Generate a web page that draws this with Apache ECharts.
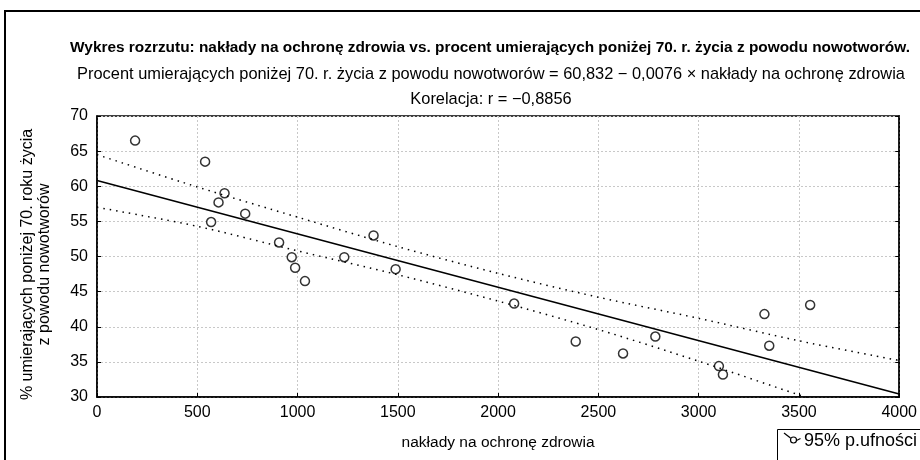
<!DOCTYPE html>
<html>
<head>
  <meta charset="utf-8">
  <title>Wykres rozrzutu</title>
  <script src="https://cdn.jsdelivr.net/npm/echarts@6/dist/echarts.min.js"></script>
  <style>
    html, body { margin: 0; padding: 0; background: #fff; }
    #chart { width: 920px; height: 460px; }
  </style>
</head>
<body>
<div id="chart"></div>
<script>
  // punkty: [nakłady na ochronę zdrowia, % umierających poniżej 70. r. życia]
  var points = [
    [190, 66.5], [539, 63.5], [569, 54.9], [606, 57.7], [636, 59.0],
    [739, 56.1], [908, 52.0], [971, 49.9], [988, 48.4], [1037, 46.5],
    [1233, 49.9], [1379, 53.0], [1489, 48.2], [2080, 43.3], [2387, 37.9],
    [2623, 36.2], [2784, 38.6], [3101, 34.4], [3121, 33.2], [3328, 41.8],
    [3352, 37.3], [3556, 43.1]
  ];
  // linia regresji: 60,832 - 0,0076 x
  var fitLine = [[0, 60.832], [4000, 30.432]];
  // przedział ufności 95%
  var upperBand = [[0, 64.5], [500, 59.9], [1000, 55.6], [1500, 51.4], [2000, 47.6],
                   [2500, 44.2], [3000, 41.2], [3500, 38.0], [4000, 35.2]];
  var lowerBand = [[0, 57.0], [500, 54.3], [1000, 50.8], [1500, 47.4], [2000, 43.65],
                   [2500, 39.6], [3000, 35.1], [3500, 30.3], [4000, 25.6]];

  var xTicks = [0, 500, 1000, 1500, 2000, 2500, 3000, 3500, 4000];
  var yTicks = [30, 35, 40, 45, 50, 55, 60, 65, 70];

  var titleLines = [
    'Wykres rozrzutu: nakłady na ochronę zdrowia vs. procent umierających poniżej 70. r. życia z powodu nowotworów.',
    'Procent umierających poniżej 70. r. życia z powodu nowotworów = 60,832 − 0,0076 × nakłady na ochronę zdrowia',
    'Korelacja: r = −0,8856'
  ];
  var xName = 'nakłady na ochronę zdrowia';
  var yName = '% umierających poniżej 70. roku życia\nz powodu nowotworów';
  var legendName = '95% p.ufności';

  var font = '"Liberation Sans", Arial, sans-serif';
  var chart = echarts.init(document.getElementById('chart'));

  var gridLine = { show: true, lineStyle: { color: '#c8c8c8', type: [2, 2], width: 1 } };

  var option = {
    backgroundColor: '#fff',
    animation: false,
    textStyle: { fontFamily: font, color: '#000' },
    title: [
      { text: titleLines[0], left: 485, top: 35, textAlign: 'center',
        textStyle: { fontFamily: font, fontSize: 15.4, fontWeight: 'bold', color: '#000' } },
      { text: titleLines[1], left: 486, top: 61, textAlign: 'center',
        textStyle: { fontFamily: font, fontSize: 16.4, fontWeight: 'normal', color: '#000' } },
      { text: titleLines[2], left: 486, top: 86, textAlign: 'center',
        textStyle: { fontFamily: font, fontSize: 16.4, fontWeight: 'normal', color: '#000' } }
    ],
    grid: { left: 97, right: 19, top: 116, bottom: 63, show: true,
            borderColor: '#000', borderWidth: 1.5, backgroundColor: 'transparent' },
    xAxis: {
      type: 'value', min: xTicks[0], max: xTicks[xTicks.length - 1], interval: 500,
      name: xName, nameLocation: 'middle', nameGap: 38,
      nameTextStyle: { fontFamily: font, fontSize: 15.5, color: '#000' },
      axisLine: { show: true, lineStyle: { color: '#000', width: 1.5 } },
      axisTick: { show: true, inside: true, length: 4, lineStyle: { color: '#000' } },
      axisLabel: { fontFamily: font, fontSize: 16, color: '#000', margin: 8,
                   formatter: function (v) { return String(v); } },
      splitLine: gridLine
    },
    yAxis: [{
      type: 'value', min: yTicks[0], max: yTicks[yTicks.length - 1], interval: 5,
      name: yName, nameLocation: 'middle', nameGap: 44, nameRotate: 90,
      nameTextStyle: { fontFamily: font, fontSize: 16, color: '#000', lineHeight: 17,
                       padding: [0, 16, 0, 0] },
      axisLine: { show: true, lineStyle: { color: '#000', width: 1.5 } },
      axisTick: { show: true, inside: true, length: 4, lineStyle: { color: '#000' } },
      axisLabel: { fontFamily: font, fontSize: 16, color: '#000', margin: 9 },
      splitLine: gridLine
    }, {
      type: 'value', position: 'right', min: yTicks[0], max: yTicks[yTicks.length - 1], interval: 5,
      axisLine: { show: true, lineStyle: { color: '#000', width: 1.5 } },
      axisTick: { show: true, inside: true, length: 4, lineStyle: { color: '#000' } },
      axisLabel: { show: false },
      splitLine: { show: false }
    }],
    series: [
      { type: 'line', data: upperBand, smooth: 0.3, symbol: 'none', clip: true,
        lineStyle: { color: '#000', width: 1.5, type: [1.5, 5] } },
      { type: 'line', data: lowerBand, smooth: 0.3, symbol: 'none', clip: true,
        lineStyle: { color: '#000', width: 1.5, type: [1.5, 5] } },
      { type: 'line', data: fitLine, symbol: 'none', clip: true,
        lineStyle: { color: '#000', width: 1.6 } },
      { type: 'scatter', data: points, symbol: 'circle', symbolSize: 9,
        itemStyle: { color: '#fff', borderColor: '#000', borderWidth: 1.5 } }
    ],
    graphic: [
      { type: 'rect', shape: { x: 5, y: 11, width: 930, height: 470 },
        style: { fill: 'none', stroke: '#000', lineWidth: 2 }, silent: true },
      { type: 'rect', shape: { x: 777.5, y: 429.5, width: 160, height: 40 },
        style: { fill: '#fff', stroke: '#000', lineWidth: 1 } },
      { type: 'polyline', shape: { points: [[784, 433], [790.5, 438]] },
        style: { stroke: '#000', lineWidth: 1.2, fill: 'none' } },
      { type: 'polyline', shape: { points: [[796.5, 440.5], [800.5, 438.5]] },
        style: { stroke: '#000', lineWidth: 1.2, fill: 'none' } },
      { type: 'circle', shape: { cx: 793.5, cy: 440, r: 3 },
        style: { fill: '#fff', stroke: '#000', lineWidth: 1.2 } },
      { type: 'text', left: 804, top: 432,
        style: { text: legendName, font: '18px ' + font, fill: '#000' } }
    ]
  };

  chart.setOption(option);
</script>
</body>
</html>
